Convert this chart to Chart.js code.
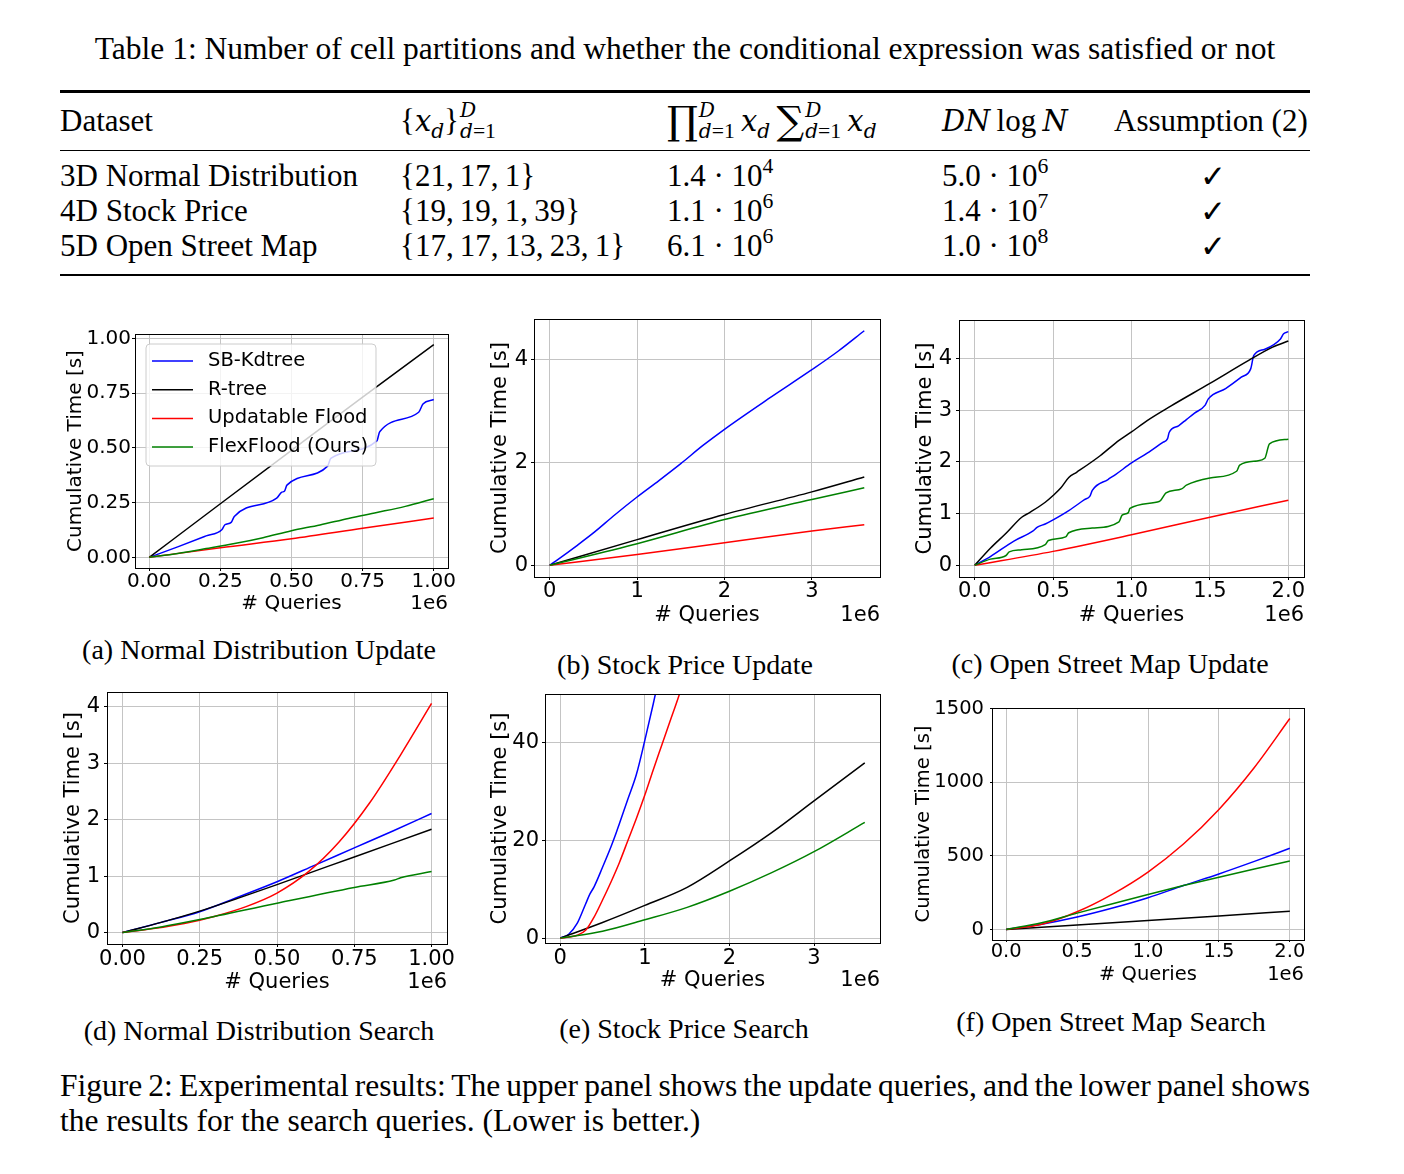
<!DOCTYPE html>
<html>
<head>
<meta charset="utf-8">
<title>FlexFlood results</title>
<script src="https://cdn.jsdelivr.net/npm/chart.js@4.4.1/dist/chart.umd.min.js"></script>
<style>
  html, body { margin: 0; padding: 0; background: #fff; }
  body { position: relative; width: 1404px; height: 1174px; overflow: hidden;
         font-family: "Liberation Serif", "Times New Roman", serif; color: #000; }
  .t { position: absolute; white-space: nowrap; font-size: 31px; line-height: 50px; height: 50px; }
  .cap { position: absolute; white-space: nowrap; font-size: 28px; line-height: 40px; height: 40px; text-align: center; width: 440px; }
  .row { position: absolute; left: 0; width: 1404px; height: 50px; font-size: 31px; }
  .row > span { position: absolute; top: 0; line-height: 50px; white-space: nowrap; }
  .rule { position: absolute; left: 60px; width: 1250px; background: #000; }
  .m i { font-style: italic; font-family: "DejaVu Serif", serif; font-size: 0.93em; }
  .sb { font-size: 0.7em; vertical-align: -0.3em; line-height: 0; }
  .sp { font-size: 0.7em; vertical-align: 0.6em; line-height: 0; }
  .st { display: inline-block; font-size: 0.7em; line-height: 0.95; vertical-align: -0.3em; margin-left: 1px; }
  .st > span { display: block; }
  .big { font-size: 1.25em; font-family: "DejaVu Serif", serif; vertical-align: -0.08em; line-height: 0; }
  .chk { font-family: "DejaVu Sans", sans-serif; font-size: 31px; }
  canvas { position: absolute; }
</style>
</head>
<body>

<div class="t" style="left:60px; width:1250px; text-align:center; top:23.5px; font-size:31.5px;">Table 1: Number of cell partitions and whether the conditional expression was satisfied or not</div>

<div class="rule" style="top:90px; height:2.5px;"></div>
<div class="row" style="top:96px;">
  <span style="left:60px;">Dataset</span>
  <span class="m" style="left:400px;">{<i>x</i><span class="sb"><i>d</i></span>}<span class="st"><span><i>D</i></span><span><i>d</i>=1</span></span></span>
  <span class="m" style="left:667px;"><span class="big">∏</span><span class="st"><span><i>D</i></span><span><i>d</i>=1</span></span>&#8201;<i>x</i><span class="sb"><i>d</i></span>&#8201;<span class="big">∑</span><span class="st"><span><i>D</i></span><span><i>d</i>=1</span></span>&#8201;<i>x</i><span class="sb"><i>d</i></span></span>
  <span class="m" style="left:942px;"><i>DN</i>&#8201;log&#8201;<i>N</i></span>
  <span style="left:1114px;">Assumption (2)</span>
</div>
<div class="rule" style="top:149.5px; height:1.5px;"></div>
<div class="row" style="top:151.2px;">
  <span style="left:60px;">3D Normal Distribution</span>
  <span style="left:400px;">{21,&#8201;17,&#8201;1}</span>
  <span style="left:667px;">1.4 · 10<span class="sp">4</span></span>
  <span style="left:942px;">5.0 · 10<span class="sp">6</span></span>
  <span class="chk" style="left:1200px;">✓</span>
</div>
<div class="row" style="top:186.2px;">
  <span style="left:60px;">4D Stock Price</span>
  <span style="left:400px;">{19,&#8201;19,&#8201;1,&#8201;39}</span>
  <span style="left:667px;">1.1 · 10<span class="sp">6</span></span>
  <span style="left:942px;">1.4 · 10<span class="sp">7</span></span>
  <span class="chk" style="left:1200px;">✓</span>
</div>
<div class="row" style="top:221.2px;">
  <span style="left:60px;">5D Open Street Map</span>
  <span style="left:400px;">{17,&#8201;17,&#8201;13,&#8201;23,&#8201;1}</span>
  <span style="left:667px;">6.1 · 10<span class="sp">6</span></span>
  <span style="left:942px;">1.0 · 10<span class="sp">8</span></span>
  <span class="chk" style="left:1200px;">✓</span>
</div>
<div class="rule" style="top:273.5px; height:2.5px;"></div>

<div class="cap" style="left:39px; top:630px;">(a) Normal Distribution Update</div>
<div class="cap" style="left:465px; top:645px;">(b) Stock Price Update</div>
<div class="cap" style="left:890px; top:644px;">(c) Open Street Map Update</div>
<div class="cap" style="left:39px; top:1011px;">(d) Normal Distribution Search</div>
<div class="cap" style="left:464px; top:1009px;">(e) Stock Price Search</div>
<div class="cap" style="left:891px; top:1002px;">(f) Open Street Map Search</div>

<div class="t" style="left:60px; width:1250px; top:1060.5px; font-size:31.5px; word-spacing:-2.5px; text-align:justify; text-align-last:justify;">Figure 2: Experimental results: The upper panel shows the update queries, and the lower panel shows</div>
<div class="t" style="left:60px; top:1095.5px; font-size:31.5px;">the results for the search queries. (Lower is better.)</div>

<script>
// x values in units of 1e6 queries, y values in seconds
const seriesNames = ["SB-Kdtree", "R-tree", "Updatable Flood", "FlexFlood (Ours)"];
const seriesColors = ["#0000ff", "#000000", "#ff0000", "#008000"];

// (a) Normal Distribution Update
const aKdtree = [[0,0],[0.1,0.048],[0.2,0.098],[0.255,0.126],[0.266,0.149],[0.288,0.16],[0.299,0.187],[0.448,0.271],[0.466,0.298],[0.475,0.302],[0.484,0.33],[0.627,0.417],[0.638,0.452],[0.8,0.532],[0.81,0.574],[0.947,0.663],[0.962,0.701],[1.0,0.721]];
const aRtree = [[0,0],[0.25,0.245],[0.5,0.489],[0.75,0.732],[1.0,0.972]];
const aFlood = [[0,0],[0.25,0.044],[0.5,0.085],[0.75,0.133],[1.0,0.18]];
const aFlex = [[0,0],[0.1,0.018],[0.2,0.04],[0.3,0.063],[0.4,0.09],[0.5,0.122],[0.6,0.148],[0.7,0.178],[0.8,0.205],[0.9,0.233],[1.0,0.268]];

// (b) Stock Price Update
const bKdtree = [[0,0],[0.1,0.12],[0.3,0.37],[0.5,0.63],[0.75,0.99],[1.0,1.33],[1.25,1.65],[1.5,1.98],[1.75,2.33],[2.0,2.65],[2.5,3.24],[3.0,3.81],[3.3,4.17],[3.6,4.57]];
const bRtree = [[0,0],[1.0,0.5],[2.0,0.99],[3.0,1.43],[3.6,1.72]];
const bFlood = [[0,0],[1.0,0.21],[2.0,0.44],[3.0,0.67],[3.6,0.79]];
const bFlex = [[0,0],[1.0,0.42],[2.0,0.89],[3.0,1.28],[3.6,1.51]];

// (c) Open Street Map Update
const cKdtree = [[0,0],[0.1,0.17],[0.25,0.47],[0.37,0.66],[0.4,0.74],[0.45,0.8],[0.5,0.88],[0.6,1.06],[0.7,1.27],[0.735,1.34],[0.75,1.45],[0.85,1.66],[0.9,1.76],[1.0,1.98],[1.1,2.17],[1.2,2.38],[1.23,2.45],[1.24,2.57],[1.3,2.7],[1.35,2.82],[1.4,2.94],[1.47,3.1],[1.49,3.22],[1.6,3.42],[1.7,3.64],[1.76,3.8],[1.78,4.06],[1.85,4.18],[1.95,4.38],[1.97,4.48],[2.0,4.52]];
const cRtree = [[0,0],[0.1,0.33],[0.2,0.62],[0.3,0.93],[0.35,1.02],[0.45,1.22],[0.5,1.35],[0.55,1.5],[0.6,1.7],[0.65,1.8],[0.8,2.12],[0.9,2.37],[1.0,2.58],[1.1,2.8],[1.25,3.08],[1.5,3.52],[1.75,3.97],[1.9,4.22],[2.0,4.34]];
const cFlood = [[0,0],[0.5,0.27],[1.0,0.59],[1.5,0.93],[2.0,1.26]];
const cFlex = [[0,0],[0.1,0.12],[0.2,0.19],[0.22,0.26],[0.3,0.3],[0.45,0.4],[0.47,0.48],[0.58,0.55],[0.6,0.63],[0.75,0.72],[0.92,0.84],[0.94,0.97],[0.98,1.02],[0.99,1.1],[1.18,1.24],[1.22,1.4],[1.32,1.48],[1.35,1.55],[1.5,1.69],[1.67,1.82],[1.69,1.94],[1.8,2.02],[1.85,2.07],[1.88,2.35],[2.0,2.44]];

// (d) Normal Distribution Search
const dKdtree = [[0,0],[0.125,0.18],[0.25,0.37],[0.375,0.63],[0.5,0.9],[0.625,1.2],[0.75,1.5],[0.875,1.8],[1.0,2.11]];
const dRtree = [[0,0],[0.125,0.18],[0.25,0.38],[0.375,0.61],[0.5,0.85],[0.75,1.34],[1.0,1.83]];
const dFlood = [[0,0],[0.1,0.07],[0.2,0.16],[0.3,0.29],[0.4,0.46],[0.5,0.7],[0.6,1.07],[0.7,1.6],[0.8,2.3],[0.9,3.15],[1.0,4.06]];
const dFlex = [[0,0],[0.125,0.1],[0.25,0.23],[0.5,0.52],[0.75,0.8],[0.88,0.93],[0.9,0.97],[1.0,1.08]];

// (e) Stock Price Search
const eKdtree = [[0,0],[0.1,0.8],[0.2,3.0],[0.3,7.0],[0.35,9.0],[0.4,10.5],[0.5,14.5],[0.6,18.7],[0.65,21.0],[0.7,23.5],[0.8,28.5],[0.9,33.5],[1.0,40.5],[1.1,48],[1.2,56]];
const eRtree = [[0,0],[0.5,3.2],[1.0,6.7],[1.5,10.4],[2.0,15.8],[2.5,21.6],[3.0,28.1],[3.6,35.9]];
const eFlood = [[0,0],[0.2,0.6],[0.3,1.6],[0.4,4.3],[0.5,7.8],[0.6,11.5],[0.7,15.5],[0.8,20],[0.9,24.5],[1.0,29.3],[1.1,34.5],[1.2,39.5],[1.3,44.5],[1.4,49.5],[1.5,55]];
const eFlex = [[0,0],[0.5,1.4],[1.0,3.75],[1.5,6.3],[2.0,9.6],[2.5,13.4],[3.0,17.7],[3.6,23.7]];

// (f) Open Street Map Search
const fKdtree = [[0,0],[0.25,35],[0.5,84],[0.75,145],[1.0,215],[1.25,298],[1.5,377],[1.75,462],[2.0,551]];
const fRtree = [[0,0],[0.5,31],[1.0,61],[1.5,92],[2.0,124]];
const fFlood = [[0,0],[0.25,35],[0.5,120],[0.75,240],[1.0,390],[1.25,580],[1.5,815],[1.75,1100],[2.0,1432]];
const fFlex = [[0,0],[0.25,45],[0.5,111],[0.75,175],[1.0,237],[1.25,298],[1.5,355],[1.75,410],[2.0,465]];

// tick labels
const ticksNormQ = [0, 0.25, 0.5, 0.75, 1.0];
const ticksStockQ = [0, 1, 2, 3];
const ticksOsmQ = [0, 0.5, 1.0, 1.5, 2.0];
const ticksTimeA = [0, 0.25, 0.5, 0.75, 1.0];
const ticksTimeB = [0, 2, 4];
const ticksTimeC = [0, 1, 2, 3, 4];
const ticksTimeD = [0, 1, 2, 3, 4];
const ticksTimeE = [0, 20, 40];
const ticksTimeF = [0, 500, 1000, 1500];

const panels = [
  { plot: { l: 135, r: 448, t: 334, b: 568 }, yTitleX: 76, xTitleY: 604, fs: 20, yGap: 4, xGap: 14, tick: 3,
    x: { min: -0.05, max: 1.05, ticks: ticksNormQ, dec: 2 },
    y: { min: -0.0486, max: 1.0206, ticks: ticksTimeA, dec: 2 },
    series: [aKdtree, aRtree, aFlood, aFlex], legend: true },
  { plot: { l: 534, r: 880, t: 319, b: 577 }, yTitleX: 501, xTitleY: 615, fs: 21, yGap: 6, xGap: 14.7, tick: 3,
    x: { min: -0.18, max: 3.78, ticks: ticksStockQ, dec: 0 },
    y: { min: -0.2285, max: 4.7985, ticks: ticksTimeB, dec: 0 },
    series: [bKdtree, bRtree, bFlood, bFlex] },
  { plot: { l: 959, r: 1304, t: 320, b: 577 }, yTitleX: 926, xTitleY: 615, fs: 21, yGap: 7, xGap: 14.7, tick: 3,
    x: { min: -0.1, max: 2.1, ticks: ticksOsmQ, dec: 1 },
    y: { min: -0.226, max: 4.746, ticks: ticksTimeC, dec: 0 },
    series: [cKdtree, cRtree, cFlood, cFlex] },
  { plot: { l: 107, r: 447, t: 692, b: 944 }, yTitleX: 74, xTitleY: 982, fs: 21, yGap: 7, xGap: 16, tick: 3,
    x: { min: -0.05, max: 1.05, ticks: ticksNormQ, dec: 2 },
    y: { min: -0.203, max: 4.263, ticks: ticksTimeD, dec: 0 },
    series: [dKdtree, dRtree, dFlood, dFlex] },
  { plot: { l: 545, r: 880, t: 694, b: 943 }, yTitleX: 501, xTitleY: 980, fs: 21, yGap: 6, xGap: 16, tick: 3,
    x: { min: -0.18, max: 3.78, ticks: ticksStockQ, dec: 0 },
    y: { min: -1.0, max: 50, ticks: ticksTimeE, dec: 0 },
    series: [eKdtree, eRtree, eFlood, eFlex] },
  { plot: { l: 992, r: 1304, t: 708, b: 940 }, yTitleX: 924, xTitleY: 975, fs: 19.5, yGap: 8, xGap: 12, tick: 2,
    x: { min: -0.1, max: 2.1, ticks: ticksOsmQ, dec: 1 },
    y: { min: -71.6, max: 1503.6, ticks: ticksTimeF, dec: 0 },
    series: [fKdtree, fRtree, fFlood, fFlex] },
];

Chart.defaults.font.family = '"DejaVu Sans", sans-serif';
Chart.defaults.color = "#000";

// matplotlib-like frame, inner legend and the "1e6" offset label
const decorPlugin = {
  id: "decor",
  afterDraw(chart, args, opts) {
    const { ctx, chartArea: ca } = chart;
    ctx.save();
    ctx.strokeStyle = "#000";
    ctx.lineWidth = 1;
    ctx.strokeRect(Math.round(ca.left) + 0.5, Math.round(ca.top) + 0.5,
      Math.round(ca.right - ca.left), Math.round(ca.bottom - ca.top));

    ctx.font = `${opts.fs}px "DejaVu Sans"`;
    ctx.fillStyle = "#000";
    ctx.textAlign = "right";
    ctx.textBaseline = "middle";
    ctx.fillText("1e6", ca.right, chart.height - 0.6 * opts.fs);

    if (opts.legend) {
      const labels = chart.data.datasets.map((d) => d.label);
      const colors = chart.data.datasets.map((d) => d.borderColor);
      ctx.font = `19.5px "DejaVu Sans"`;
      const textW = Math.max(...labels.map((t) => ctx.measureText(t).width));
      const x0 = ca.left + 11, y0 = ca.top + 10;
      const w = 62 + textW + 8, h = 122, r = 4;
      ctx.beginPath();
      ctx.moveTo(x0 + r, y0);
      ctx.arcTo(x0 + w, y0, x0 + w, y0 + h, r);
      ctx.arcTo(x0 + w, y0 + h, x0, y0 + h, r);
      ctx.arcTo(x0, y0 + h, x0, y0, r);
      ctx.arcTo(x0, y0, x0 + w, y0, r);
      ctx.closePath();
      ctx.fillStyle = "rgba(255,255,255,0.8)";
      ctx.fill();
      ctx.strokeStyle = "#cccccc";
      ctx.stroke();
      ctx.textAlign = "left";
      labels.forEach((label, i) => {
        const y = y0 + 17 + i * 28.7;
        ctx.strokeStyle = colors[i];
        ctx.lineWidth = 1.5;
        ctx.beginPath();
        ctx.moveTo(x0 + 6, y);
        ctx.lineTo(x0 + 47, y);
        ctx.stroke();
        ctx.fillStyle = "#000";
        ctx.fillText(label, x0 + 62, y);
      });
    }
    ctx.restore();
  },
};

panels.forEach((p) => {
  const off = 0.6 * p.fs;
  const left = Math.round(p.yTitleX - off);
  const top = p.plot.t - 16;
  const right = p.plot.r + 26;
  const bottom = Math.round(p.xTitleY + off);
  const yW = p.plot.l - left;
  const xH = bottom - p.plot.b;

  const canvas = document.createElement("canvas");
  canvas.width = right - left;
  canvas.height = bottom - top;
  canvas.style.left = left + "px";
  canvas.style.top = top + "px";
  canvas.style.width = canvas.width + "px";
  canvas.style.height = canvas.height + "px";
  document.body.appendChild(canvas);

  const datasets = p.series.map((pts, i) => ({
    label: seriesNames[i],
    data: pts.map(([x, y]) => ({ x, y })),
    borderColor: seriesColors[i],
    borderWidth: 1.5,
    pointRadius: 0,
    fill: false,
    cubicInterpolationMode: "monotone",
    order: 4 - i,
  }));

  const axisCommon = (ax, title, fit, pad) => ({
    type: "linear",
    min: ax.min,
    max: ax.max,
    afterBuildTicks: (s) => { s.ticks = ax.ticks.map((v) => ({ value: v })); },
    afterFit: fit,
    ticks: {
      callback: (v) => Number(v).toFixed(ax.dec),
      font: { size: p.fs, lineHeight: 1 },
      color: "#000",
      padding: pad,
      maxRotation: 0,
      autoSkip: false,
    },
    grid: { color: "#c4c4c4", lineWidth: 1, tickColor: "#000", tickLength: p.tick },
    border: { display: true, color: "#000", width: 1 },
    title: { display: true, text: title, font: { size: p.fs, lineHeight: 1.2 }, color: "#000", padding: 0 },
  });

  new Chart(canvas.getContext("2d"), {
    type: "line",
    data: { datasets },
    options: {
      responsive: false,
      animation: false,
      devicePixelRatio: 1,
      layout: { padding: { top: 16, right: 26, left: 0, bottom: 0 } },
      plugins: {
        legend: { display: false },
        tooltip: { enabled: false },
        decor: { fs: p.fs, legend: !!p.legend },
      },
      scales: {
        x: axisCommon(p.x, "# Queries", (s) => { s.height = xH; }, p.xGap - p.tick - 0.5 * p.fs),
        y: axisCommon(p.y, "Cumulative Time [s]", (s) => { s.width = yW; }, p.yGap - p.tick),
      },
    },
    plugins: [decorPlugin],
  });
});
</script>
</body>
</html>
